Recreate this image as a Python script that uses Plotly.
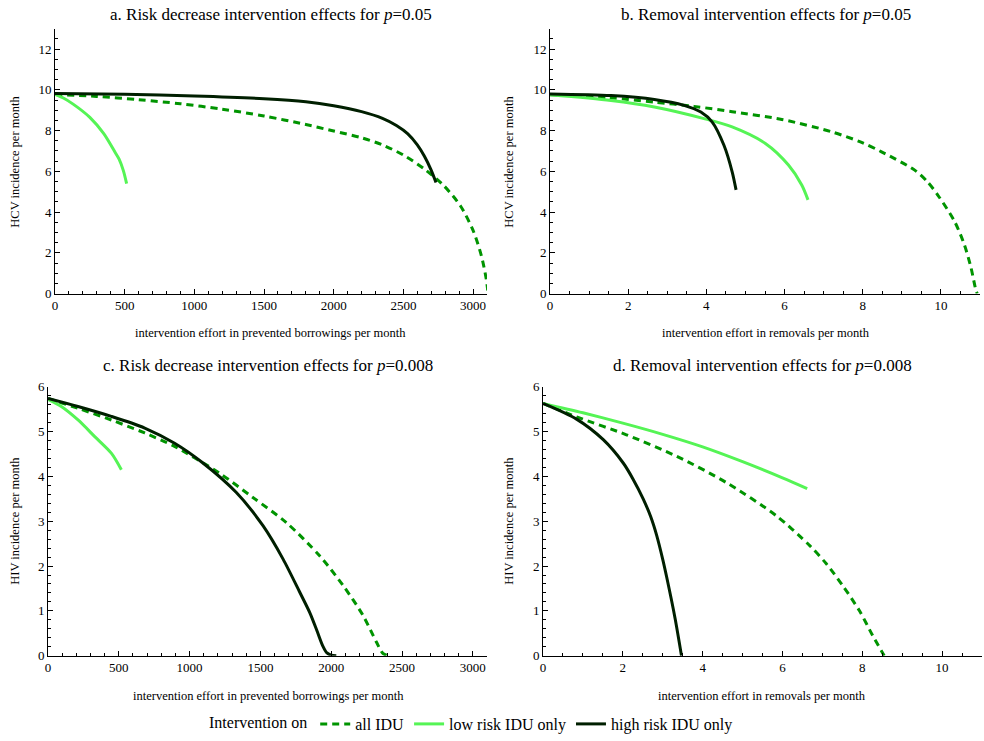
import plotly.graph_objects as go

# ---------------- data ----------------
a_all_x = [0, 300, 600, 900, 1200, 1500, 1800, 2000, 2200, 2350, 2500, 2650, 2790, 2910, 3000, 3060, 3095, 3105]
a_all_y = [9.78, 9.68, 9.52, 9.32, 9.05, 8.72, 8.3, 7.98, 7.65, 7.3, 6.8, 6.12, 5.3, 4.3, 3.1, 1.85, 0.7, 0.15]
a_low_x = [0, 60, 130, 250, 350, 430, 460, 490, 514]
a_low_y = [9.78, 9.6, 9.3, 8.65, 7.85, 6.95, 6.6, 6.05, 5.4]
a_high_x = [0, 500, 1000, 1500, 1800, 2000, 2200, 2350, 2450, 2530, 2600, 2650, 2700, 2734]
a_high_y = [9.82, 9.78, 9.7, 9.57, 9.42, 9.22, 8.93, 8.6, 8.25, 7.85, 7.3, 6.75, 6.05, 5.45]

b_all_x = [0, 1.5, 2.67, 3.68, 4.66, 5.93, 7.21, 8.0, 8.48, 9.33, 9.65, 9.92, 10.35, 10.6, 10.77, 10.9, 10.93]
b_all_y = [9.76, 9.62, 9.4, 9.19, 8.93, 8.55, 7.94, 7.4, 6.96, 6.06, 5.5, 4.84, 3.54, 2.4, 1.27, 0.13, 0.0]
b_low_x = [0, 1.56, 2.67, 3.94, 4.66, 5.51, 6.1, 6.44, 6.6]
b_low_y = [9.76, 9.48, 9.16, 8.59, 8.18, 7.37, 6.31, 5.33, 4.6]
b_high_x = [0, 1.56, 2.67, 3.43, 3.86, 4.15, 4.45, 4.66, 4.76]
b_high_y = [9.8, 9.72, 9.53, 9.24, 8.91, 8.42, 7.28, 5.98, 5.09]

c_all_x = [0, 212, 447, 683, 894, 1212, 1447, 1683, 1918, 2083, 2224, 2318, 2365, 2400]
c_all_y = [5.74, 5.52, 5.26, 4.97, 4.67, 4.07, 3.53, 2.97, 2.23, 1.57, 0.9, 0.31, 0.05, 0.0]
c_low_x = [0, 94, 212, 330, 447, 518]
c_low_y = [5.72, 5.56, 5.26, 4.89, 4.52, 4.15]
c_high_x = [0, 212, 447, 683, 894, 1094, 1330, 1518, 1659, 1777, 1850, 1900, 1940, 1970, 2000, 2036]
c_high_y = [5.74, 5.56, 5.34, 5.08, 4.74, 4.3, 3.64, 2.9, 2.16, 1.42, 0.95, 0.55, 0.22, 0.06, 0.01, 0.0]

d_all_x = [0, 0.84, 2.09, 3.35, 4.6, 5.85, 6.69, 7.1, 7.52, 7.93, 8.26, 8.55]
d_all_y = [5.63, 5.33, 4.93, 4.45, 3.86, 3.12, 2.45, 2.05, 1.55, 1.0, 0.45, 0.0]
d_low_x = [0, 1, 2, 3, 4, 5, 6, 6.62]
d_low_y = [5.63, 5.42, 5.19, 4.94, 4.66, 4.33, 3.97, 3.73]
d_high_x = [0, 0.84, 1.51, 2.01, 2.25, 2.51, 2.7, 2.85, 3.0, 3.1, 3.31, 3.47]
d_high_y = [5.63, 5.28, 4.82, 4.3, 3.95, 3.5, 3.1, 2.68, 2.15, 1.75, 0.83, 0.0]

titles = ["a. Risk decrease intervention effects for <i>p</i>=0.05",
          "b. Removal intervention effects for <i>p</i>=0.05",
          "c. Risk decrease intervention effects for <i>p</i>=0.008",
          "d. Removal intervention effects for <i>p</i>=0.008"]
xtitles = ["intervention effort in prevented borrowings per month",
           "intervention effort in removals per month",
           "intervention effort in prevented borrowings per month",
           "intervention effort in removals per month"]
ytitles = ["HCV incidence per month", "HCV incidence per month",
           "HIV incidence per month", "HIV incidence per month"]
series_names = ["all IDU", "low risk IDU only", "high risk IDU only"]

# ---------------- styles ----------------
W, H = 984, 741
FONT = "Liberation Serif, Times New Roman, serif"
C_ALL = "#009400"
C_LOW = "#55f455"
C_HIGH = "#001f00"

panels = [
    dict(data=[(a_all_x, a_all_y), (a_low_x, a_low_y), (a_high_x, a_high_y)],
         px=(55, 487), py=(29, 296), xr=[0, 3100], yr=[0, 13], xd=500, xm=100, yd=2, ym=0.5),
    dict(data=[(b_all_x, b_all_y), (b_low_x, b_low_y), (b_high_x, b_high_y)],
         px=(550, 980), py=(29, 296), xr=[0, 11], yr=[0, 13], xd=2, xm=0.5, yd=2, ym=0.5),
    dict(data=[(c_all_x, c_all_y), (c_low_x, c_low_y), (c_high_x, c_high_y)],
         px=(48, 487), py=(390, 661), xr=[0, 3100], yr=[0, 6], xd=500, xm=100, yd=1, ym=0.2),
    dict(data=[(d_all_x, d_all_y), (d_low_x, d_low_y), (d_high_x, d_high_y)],
         px=(543, 982), py=(390, 661), xr=[0, 11], yr=[0, 6], xd=2, xm=0.5, yd=1, ym=0.2),
]
title_pos = [(271, 15), (766, 15), (268, 368), (762, 368)]
xt_pos = [(270, 336), (766, 336), (268, 702), (762, 702)]
yt_pos = [(15, 163), (509, 163), (15, 525), (509, 525)]

styles = [dict(color=C_ALL, width=3, dash="7px,5px"),
          dict(color=C_LOW, width=3),
          dict(color=C_HIGH, width=3)]

fig = go.Figure()
annotations = []
for i, p in enumerate(panels):
    k = "" if i == 0 else str(i + 1)
    for j, (xs, ys) in enumerate(p["data"]):
        fig.add_trace(go.Scatter(
            x=xs, y=ys, mode="lines", name=series_names[j],
            line=dict(shape="spline", smoothing=0.8, **styles[j]),
            xaxis="x" + k, yaxis="y" + k,
            showlegend=(i == 0), legendrank=j + 1))
    dx = [p["px"][0] / W, p["px"][1] / W]
    dy = [1 - p["py"][1] / H, 1 - p["py"][0] / H]
    common = dict(showline=True, linecolor="black", linewidth=1, showgrid=False,
                  zeroline=False, ticks="inside", ticklen=5, tickwidth=1, tickcolor="black",
                  tickfont=dict(family=FONT, size=13, color="black"), automargin=False)
    fig.update_layout(**{
        "xaxis" + k: dict(domain=dx, range=p["xr"], dtick=p["xd"], tick0=0,
                          anchor="y" + k,
                          minor=dict(dtick=p["xm"], ticks="inside", ticklen=3, tickcolor="black"),
                          **common),
        "yaxis" + k: dict(domain=dy, range=p["yr"], dtick=p["yd"], tick0=0,
                          anchor="x" + k,
                          minor=dict(dtick=p["ym"], ticks="inside", ticklen=3, tickcolor="black"),
                          **common),
    })
    tx, ty = title_pos[i]
    annotations.append(dict(text=titles[i], x=tx / W, y=1 - ty / H, xref="paper", yref="paper",
                            showarrow=False, xanchor="center", yanchor="middle",
                            font=dict(family=FONT, size=17, color="black")))
    ax, ay = xt_pos[i]
    annotations.append(dict(text=xtitles[i], x=ax / W, y=1 - ay / H, xref="paper", yref="paper",
                            showarrow=False, xanchor="center", yanchor="middle",
                            font=dict(family=FONT, size=12.5, color="black")))
    yx, yy = yt_pos[i]
    annotations.append(dict(text=ytitles[i], x=yx / W, y=1 - yy / H, xref="paper", yref="paper",
                            showarrow=False, xanchor="center", yanchor="middle", textangle=-90,
                            font=dict(family=FONT, size=12.5, color="black")))

fig.update_layout(
    width=W, height=H,
    margin=dict(l=0, r=0, t=0, b=0),
    paper_bgcolor="white", plot_bgcolor="white",
    annotations=annotations,
    font=dict(family=FONT, color="black"),
    legend=dict(orientation="h", x=207 / W, xanchor="left", y=1 - 730 / H, yanchor="middle",
                title=dict(text="Intervention on", side="left",
                           font=dict(family=FONT, size=16, color="black")),
                font=dict(family=FONT, size=16, color="black"),
                itemwidth=30, tracegroupgap=0, bgcolor="rgba(0,0,0,0)"),
)

fig.write_html("out.html")
